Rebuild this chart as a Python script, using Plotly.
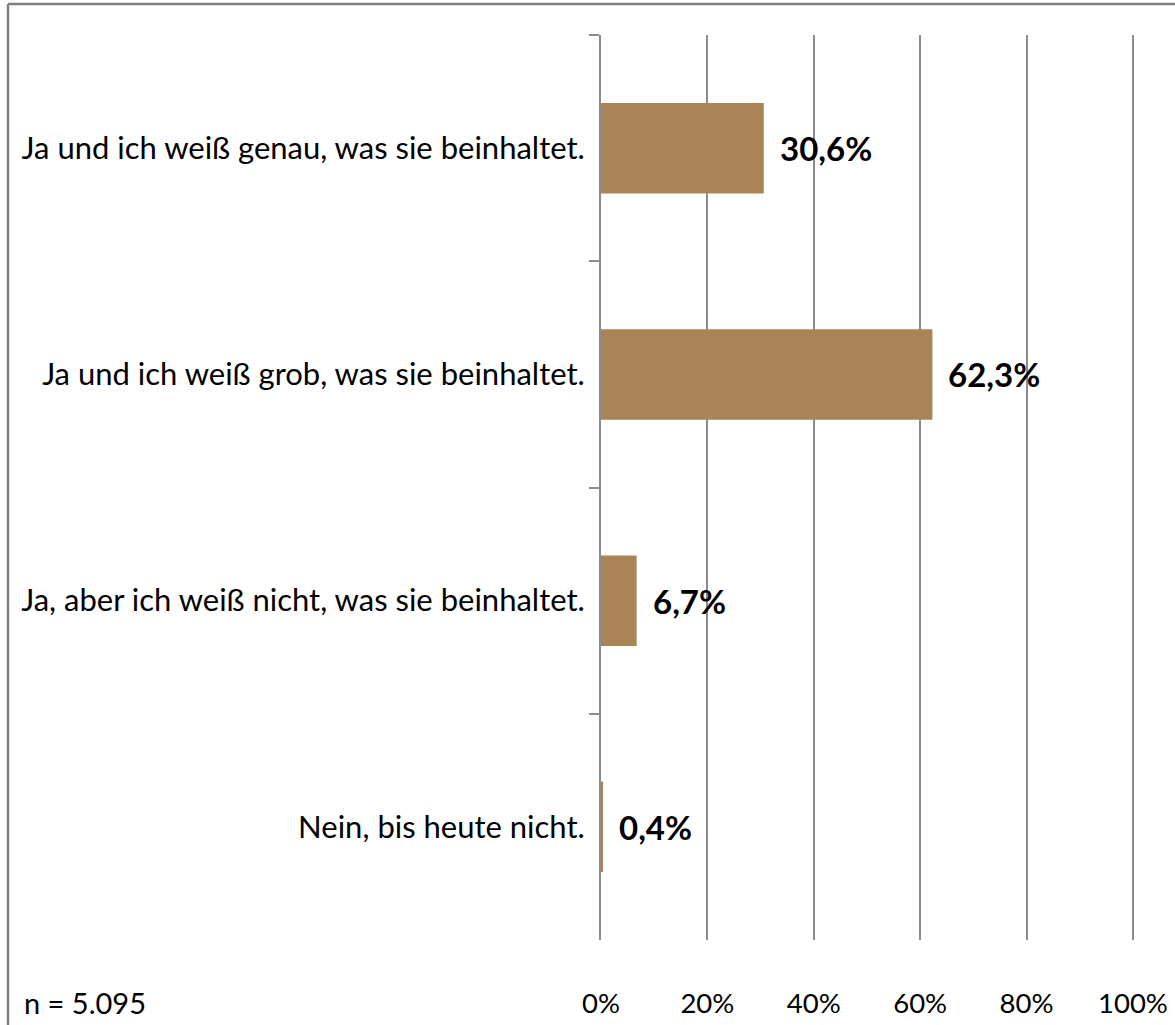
import plotly.graph_objects as go

# Survey answers (top to bottom) and their shares in percent
categories = [
    "Ja und ich weiß genau, was sie beinhaltet.",
    "Ja und ich weiß grob, was sie beinhaltet.",
    "Ja, aber ich weiß nicht, was sie beinhaltet.",
    "Nein, bis heute nicht.",
]
shares = [30.6, 62.3, 6.7, 0.4]
share_labels = ["30,6%", "62,3%", "6,7%", "0,4%"]
x_ticks = [0, 20, 40, 60, 80, 100]
x_tick_labels = ["0%", "20%", "40%", "60%", "80%", "100%"]
sample_note = "n = 5.095"

W, H = 1175, 1025
L, R, T, B = 601, 41, 35, 85
plot_w = W - L - R
plot_h = H - T - B

FONT = "Lato, Carlito, Calibri, sans-serif"
BAR_COLOR = "#A98457"
GRID_COLOR = "#8C8C8C"

fig = go.Figure()
fig.add_trace(go.Bar(
    y=categories,
    x=shares,
    orientation="h",
    marker=dict(color=BAR_COLOR, line=dict(width=0)),
    width=0.4,
    hoverinfo="skip",
))

# value labels to the right of each bar
for cat, val, lab in zip(categories, shares, share_labels):
    fig.add_annotation(
        x=val, y=cat, text=f"<b>{lab}</b>", showarrow=False,
        xanchor="left", yanchor="middle", xshift=14,
        font=dict(family=FONT, size=33, color="#000000"),
    )

# sample size note
px = lambda v: (v - L) / plot_w
py = lambda v: (H - B - v) / plot_h
fig.add_annotation(
    x=px(22), y=py(1002), xref="paper", yref="paper",
    text=sample_note, showarrow=False, xanchor="left", yanchor="middle",
    font=dict(family=FONT, size=29, color="#000000"),
)

# frame around the chart (top and left edges visible)
frame = dict(color="#808080", width=2.5)
fig.add_shape(type="line", xref="paper", yref="paper",
              x0=px(8), x1=px(W + 20), y0=py(4), y1=py(4), line=frame)
fig.add_shape(type="line", xref="paper", yref="paper",
              x0=px(8), x1=px(8), y0=py(4), y1=py(H + 20), line=frame)

fig.update_layout(
    width=W, height=H,
    margin=dict(l=L, r=R, t=T, b=B, pad=0, autoexpand=False),
    paper_bgcolor="white", plot_bgcolor="white",
    showlegend=False,
    font=dict(family=FONT, size=27, color="#000000"),
    xaxis=dict(
        range=[0, 100.2], tickvals=x_ticks, ticktext=x_tick_labels,
        showgrid=True, gridcolor=GRID_COLOR, gridwidth=1.8,
        zeroline=False, showline=False, ticks="",
        ticklabelstandoff=44, automargin=False,
        tickfont=dict(family=FONT, size=27.5, color="#000000"),
        fixedrange=True,
    ),
    yaxis=dict(
        categoryorder="array", categoryarray=categories,
        autorange="reversed",
        tickson="boundaries", ticks="outside", ticklen=10,
        tickcolor=GRID_COLOR, tickwidth=1.8,
        showline=True, linecolor=GRID_COLOR, linewidth=1.8,
        showgrid=False, zeroline=False,
        ticklabelstandoff=8, automargin=False,
        tickfont=dict(family=FONT, size=31, color="#000000"),
        fixedrange=True,
    ),
)

fig.write_html("out.html")
